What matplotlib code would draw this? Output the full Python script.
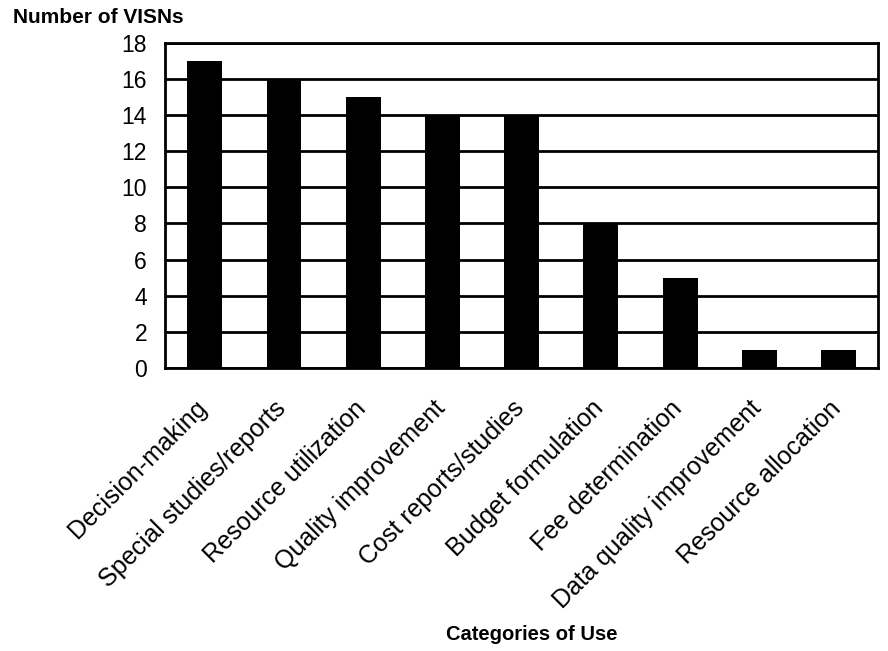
import numpy as np
import matplotlib.pyplot as plt
from matplotlib.transforms import ScaledTranslation

plt.rcParams['font.family'] = ['Liberation Sans', 'DejaVu Sans']

categories = ["Decision-making", "Special studies/reports", "Resource utilization",
              "Quality improvement", "Cost reports/studies", "Budget formulation",
              "Fee determination", "Data quality improvement", "Resource allocation"]
visns = [17, 16, 15, 14, 14, 8, 5, 1, 1]
yticks = [0, 2, 4, 6, 8, 10, 12, 14, 16, 18]

fig = plt.figure(figsize=(8.88, 6.51), dpi=100)
ax = fig.add_axes([0.186, 0.435, 0.803, 0.499])

x = np.arange(len(categories))
ax.set_axisbelow(True)
ax.yaxis.grid(True, color='black', linewidth=2)
ax.bar(x, visns, width=0.44, color='black', zorder=3)

ax.set_xlim(-0.5, len(categories) - 0.5)
ax.set_ylim(0, 18)
ax.set_yticks(yticks)
ax.set_yticklabels([str(t) for t in yticks], fontsize=16.5)
ax.set_xticks(x)
ax.set_xticklabels(categories, rotation=45, ha='right', va='top',
                   rotation_mode='anchor', fontsize=18)
ax.tick_params(axis='y', length=0, pad=13)
ax.tick_params(axis='x', length=0, pad=16)
# nudge the slanted labels down and to the left of their ticks
shift = ScaledTranslation(-0.10, -0.06, fig.dpi_scale_trans)
for lbl in ax.get_xticklabels():
    lbl.set_transform(lbl.get_transform() + shift)
for s in ax.spines.values():
    s.set_linewidth(2)

fig.text(0.015, 0.973, "Number of VISNs", fontsize=15, fontweight='bold', va='center')
fig.text(0.599, 0.026, "Categories of Use", fontsize=14.5, fontweight='bold',
         ha='center', va='center')

fig.savefig('out.png', dpi=100)
